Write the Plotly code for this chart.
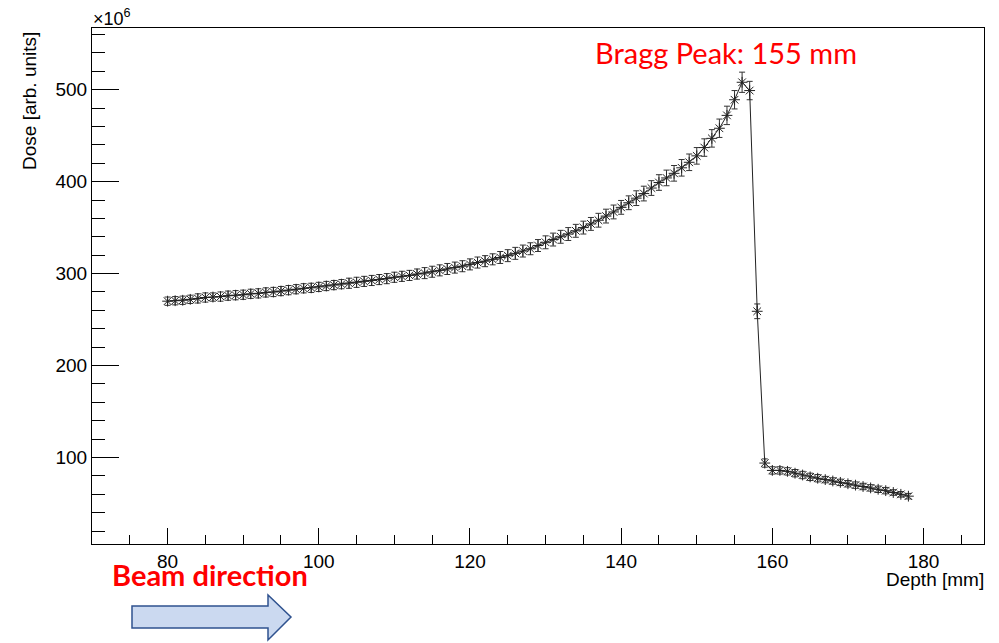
import plotly.graph_objects as go

# Depth bins [mm]
depth_mm = list(range(80, 179))

# Dose values [x10^6 arb. units]
dose = [
    270, 270.5, 271, 272, 273, 274, 274.5, 275, 276, 276.5,       # 80-89
    277, 278, 278.5, 279.5, 280, 281, 282, 283, 284, 284.5,       # 90-99
    285.5, 286.5, 287.5, 288.5, 289.5, 290.5, 291.5, 292.5, 293.5, 294.5,  # 100-109
    296, 297, 298, 299.5, 300.5, 302, 303.5, 305, 306.5, 308,     # 110-119
    310, 312, 313.5, 315.5, 317.5, 319.5, 322, 324.5, 327, 330.5, # 120-129
    334, 337, 340, 343, 346.5, 350, 354, 358, 362.5, 367,         # 130-139
    372, 377, 382, 387, 393, 399, 404, 409, 415, 421,             # 140-149
    428, 437, 447, 458, 472, 489, 508, 499, 259, 94,              # 150-159
    86, 86, 85, 83, 81, 79, 77.5, 76, 74.5, 73,                   # 160-169
    71.5, 70, 68.5, 67, 65.5, 64, 62, 60, 58,                     # 170-178
]

# Statistical errors [x10^6 arb. units]
dose_err = [
    4.5, 4.5, 4.5, 4.5, 5, 5, 4.5, 5, 5, 5,
    5, 5, 5, 5, 5, 5, 5, 5, 5, 5,
    5, 5, 5, 5, 5.5, 5.5, 5.5, 5.5, 5.5, 5.5,
    5.5, 5.5, 5.5, 5.5, 6, 6, 6, 6, 6, 6,
    6, 6, 6, 6, 6.5, 6.5, 6.5, 6.5, 6.5, 6.5,
    7, 7, 7, 7, 7, 7, 7, 7.5, 7.5, 7.5,
    7.5, 7.5, 8, 8, 8, 8.5, 8.5, 8.5, 9, 9,
    9, 9.5, 9.5, 10, 10, 10, 11, 10, 8, 4.5,
    4, 4, 4, 4, 4, 4, 4, 3.5, 3.5, 3.5,
    3.5, 3.5, 3.5, 3.5, 3.5, 3.5, 3, 3, 3,
]

x_ticks = [80, 100, 120, 140, 160, 180]
y_ticks = [100, 200, 300, 400, 500]

W, H = 999, 643
L, R, T, B = 92, 984, 28, 544


def px(x):
    return (x - L) / (R - L)


def py(y):
    return (B - y) / (B - T)


fig = go.Figure()
fig.add_trace(go.Scatter(
    x=depth_mm, y=dose,
    mode="lines+markers",
    line=dict(color="#222222", width=1),
    marker=dict(symbol="asterisk-open", size=9, color="#222222",
                line=dict(width=1, color="#333333")),
    error_y=dict(type="data", array=dose_err, visible=True,
                 color="#333333", thickness=1, width=3),
    showlegend=False,
    hoverinfo="x+y",
))

SANS = "Liberation Sans, Arial, Helvetica, sans-serif"
tick_font = dict(family=SANS, size=19, color="black")
title_font = dict(family=SANS, size=19, color="black")

fig.update_layout(
    width=W, height=H,
    margin=dict(l=L, r=W - R, t=T, b=H - B),
    paper_bgcolor="white", plot_bgcolor="white",
    font=tick_font,
    xaxis=dict(
        range=[70, 188], tickvals=x_ticks, ticks="inside", ticklen=16,
        tickcolor="black", tickwidth=1,
        minor=dict(dtick=5, tick0=0, ticks="inside", ticklen=9,
                   tickcolor="black", tickwidth=1),
        showline=True, linecolor="black", linewidth=1, mirror=True,
        showgrid=False, zeroline=False, tickfont=tick_font,
    ),
    yaxis=dict(
        range=[6, 567], tickvals=y_ticks, ticks="inside", ticklen=27,
        tickcolor="black", tickwidth=1,
        minor=dict(dtick=20, tick0=0, ticks="inside", ticklen=13,
                   tickcolor="black", tickwidth=1),
        showline=True, linecolor="black", linewidth=1, mirror=True,
        showgrid=False, zeroline=False, tickfont=tick_font,
    ),
)

annotations = [
    dict(text="Dose [arb. units]", textangle=-90, xref="paper", yref="paper",
         x=px(29), y=py(101), xanchor="center", yanchor="middle",
         showarrow=False, font=title_font),
    dict(text="Depth [mm]", xref="paper", yref="paper",
         x=px(935), y=py(579), xanchor="center", yanchor="middle",
         showarrow=False, font=title_font),
    dict(text="×10<sup>6</sup>", xref="paper", yref="paper",
         x=px(91), y=py(31), xanchor="left", yanchor="bottom",
         showarrow=False, font=dict(family=SANS, size=18, color="black")),
    dict(text="Bragg Peak: 155 mm", xref="paper", yref="paper",
         x=px(726), y=py(53), xanchor="center", yanchor="middle",
         showarrow=False, font=dict(family="Lato, Open Sans, sans-serif", size=29, color="#ff0000")),
    dict(text="<b>Beam direction</b>", xref="paper", yref="paper",
         x=px(210), y=py(574), xanchor="center", yanchor="middle",
         showarrow=False, font=dict(family="Lato, Open Sans, sans-serif", size=29, color="#ff0000")),
]
fig.update_layout(annotations=annotations)

arrow_pts = [(132, 606), (268, 606), (268, 595), (291, 617), (268, 640), (268, 628), (132, 628)]
path = "M " + " L ".join(f"{px(a):.5f},{py(b):.5f}" for a, b in arrow_pts) + " Z"
fig.add_shape(type="path", xref="paper", yref="paper", path=path,
              fillcolor="#cbd9f0", line=dict(color="#2f528f", width=1.5), layer="above")

fig.write_html("out.html")
